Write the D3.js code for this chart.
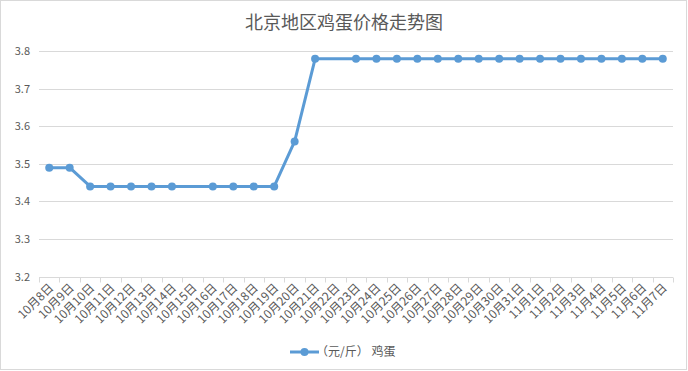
<!DOCTYPE html>
<html>
<head>
<meta charset="utf-8">
<script src="https://cdn.jsdelivr.net/npm/d3@7"></script>
<style>
  body { margin: 0; background: #fff; }
  svg { display: block; font-family: "Microsoft YaHei", "Noto Sans CJK SC", sans-serif; }
</style>
</head>
<body>
<svg id="chart" width="688" height="371"></svg>
<script>
'use strict'

// ---------------------------------------------------------------- DATA
let dates = ['10月8日','10月9日','10月10日','10月11日','10月12日','10月13日','10月14日',
  '10月15日','10月16日','10月17日','10月18日','10月19日','10月20日','10月21日','10月22日',
  '10月23日','10月24日','10月25日','10月26日','10月27日','10月28日','10月29日','10月30日',
  '10月31日','11月1日','11月2日','11月3日','11月4日','11月5日','11月6日','11月7日']
let prices = [3.49,3.49,3.44,3.44,3.44,3.44,3.44,
  null,3.44,3.44,3.44,3.44,3.56,3.78,null,
  3.78,3.78,3.78,3.78,3.78,3.78,3.78,3.78,
  3.78,3.78,3.78,3.78,3.78,3.78,3.78,3.78]
let yTicks = [3.2,3.3,3.4,3.5,3.6,3.7,3.8]
let title = '北京地区鸡蛋价格走势图'
let seriesName = '（元/斤） 鸡蛋'

let svg = d3.select('#chart')
let color = '#5b9bd5'
let textColor = '#595959'

// border
svg.append('rect')
  .attr('x',0.5).attr('y',0.5).attr('width',686).attr('height',369)
  .attr('fill','#fff').attr('stroke','#d9d9d9')

svg.append('text')
  .attr('x',344).attr('y',29)
  .attr('text-anchor','middle')
  .attr('font-size',18)
  .attr('fill',textColor)
  .text(title)

// ---------------------------------------------------------------- SCALES
let xScale = d3.scaleBand().domain(dates).range([39, 673])
let yScale = d3.scaleLinear().domain([3.2, 3.8]).range([276.5, 51.3])

// grid
svg.append('g').selectAll('line').data(yTicks).enter()
  .append('line')
    .attr('x1',39).attr('x2',673)
    .attr('y1',d=>Math.round(yScale(d))+0.5).attr('y2',d=>Math.round(yScale(d))+0.5)
    .attr('stroke','#d9d9d9')

// y labels
svg.append('g').selectAll('text').data(yTicks).enter()
  .append('text')
    .attr('x',30).attr('y',d=>yScale(d)+4)
    .attr('text-anchor','end')
    .attr('font-size',11)
    .attr('fill',textColor)
    .text(d=>d.toFixed(1))

// x axis ticks
let xg = svg.append('g')
  .attr('transform','translate(0,'+(Math.round(yScale(3.2))+0.5)+')')
xg.append('g').selectAll('line').data(d3.range(dates.length+1)).enter()
  .append('line')
    .attr('x1',i=>Math.round(39+i*xScale.step())+0.5)
    .attr('x2',i=>Math.round(39+i*xScale.step())+0.5)
    .attr('y1',0).attr('y2',5)
    .attr('stroke','#d9d9d9')

xg.selectAll('text.lbl').data(dates).enter()
  .append('text')
    .attr('class','lbl')
    .attr('font-size',12)
    .attr('fill',textColor)
    .attr('text-anchor','end')
    .attr('transform',d=>'translate('+(xScale(d)+xScale.bandwidth()/2+5)+',11) rotate(-45)')
    .text(d=>d)

// ---------------------------------------------------------------- LINE
let points = dates.map((d,i)=>({date:d, value:prices[i]})).filter(p=>p.value!=null)

let lineFunction = d3.line()
  .x(d=>xScale(d.date)+xScale.bandwidth()/2)
  .y(d=>yScale(d.value))

svg.append('path')
  .datum(points)
  .attr('d',lineFunction)
  .attr('fill','none')
  .attr('stroke',color)
  .attr('stroke-width',3)
  .attr('stroke-linejoin','round')

svg.append('g').selectAll('circle').data(points).enter()
  .append('circle')
    .attr('cx',d=>xScale(d.date)+xScale.bandwidth()/2)
    .attr('cy',d=>yScale(d.value))
    .attr('r',4)
    .attr('fill',color)

// ---------------------------------------------------------------- LEGEND
let legend = svg.append('g').attr('transform','translate(290,352)')
legend.append('line')
  .attr('x1',0).attr('x2',29).attr('y1',0).attr('y2',0)
  .attr('stroke',color).attr('stroke-width',3)
legend.append('circle').attr('cx',14.5).attr('cy',0).attr('r',4).attr('fill',color)
legend.append('text')
  .attr('x',26).attr('y',4)
  .attr('font-size',12)
  .attr('fill',textColor)
  .text(seriesName)
</script>
</body>
</html>
